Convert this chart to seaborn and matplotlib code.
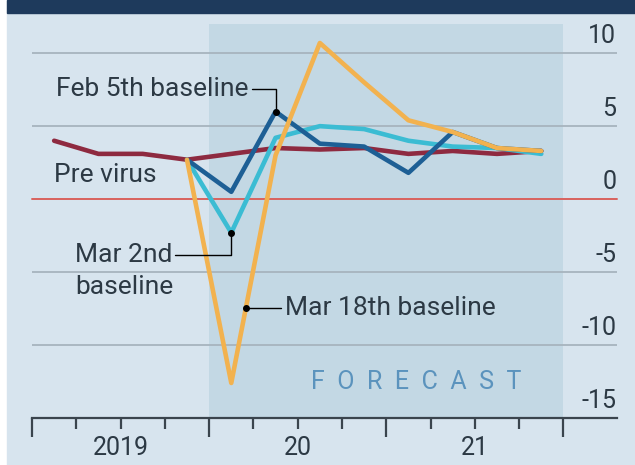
import numpy as np
import pandas as pd
import matplotlib
matplotlib.use("Agg")
import matplotlib.pyplot as plt
from matplotlib.patches import Rectangle
import seaborn as sns

# ---- data (quarterly, index 0 = 2019 Q1) ----
quarters_all = list(range(12))
pre_virus = [4.0, 3.1, 3.1, 2.7, 3.1, 3.5, 3.4, 3.5, 3.1, 3.3, 3.1, 3.3]
quarters_fc = list(range(3, 12))
feb5 = [2.7, 0.5, 6.0, 3.8, 3.6, 1.8, 4.6, 3.5, 3.3]
mar2 = [2.7, -2.3, 4.2, 5.0, 4.8, 4.0, 3.6, 3.5, 3.1]
mar18 = [2.7, -12.6, 3.0, 10.7, 8.0, 5.4, 4.6, 3.5, 3.3]
series_names = ["Pre virus", "Mar 2nd baseline", "Feb 5th baseline", "Mar 18th baseline"]
year_labels = ["2019", "20", "21"]
yticks = [10, 5, 0, -5, -10, -15]

df = pd.concat([
    pd.DataFrame({"q": quarters_all, "v": pre_virus, "s": "Pre virus"}),
    pd.DataFrame({"q": quarters_fc, "v": mar2, "s": "Mar 2nd baseline"}),
    pd.DataFrame({"q": quarters_fc, "v": feb5, "s": "Feb 5th baseline"}),
    pd.DataFrame({"q": quarters_fc, "v": mar18, "s": "Mar 18th baseline"}),
], ignore_index=True)

palette = {"Pre virus": "#8e2a40", "Mar 2nd baseline": "#3bbcd3",
           "Feb 5th baseline": "#1d5f95", "Mar 18th baseline": "#f2b24f"}

sns.set_theme(style="white")
plt.rcParams["font.family"] = ["Roboto", "DejaVu Sans"]
txt = "#2c3944"

fig = plt.figure(figsize=(6.35, 4.65), dpi=100)
fig.patch.set_facecolor("white")
fig.add_artist(Rectangle((7 / 635, 0), 1 - 7 / 635, 1, transform=fig.transFigure,
                         color="#d7e4ee", zorder=-10))
fig.add_artist(Rectangle((7 / 635, 1 - 13 / 465), 1 - 7 / 635, 13 / 465,
                         transform=fig.transFigure, color="#1e3a5c", zorder=-9))

ax = fig.add_axes([32 / 635, 47 / 465, 585 / 635, 394 / 465])
ax.patch.set_alpha(0)
ax.set_xlim(-0.5, 12.71)
ax.set_ylim(-15, 12)

# forecast shading
ax.axvspan(3.5, 11.5, color="#c3d8e4", zorder=0, lw=0)

for v in yticks:
    if v == 0:
        ax.axhline(v, color="#d9625e", lw=1.4, zorder=1, clip_on=False)
    elif v != -15:
        ax.axhline(v, color="#a7b4be", lw=1.3, zorder=1)
    ax.text(0.999, v + 0.35, f"{v}", transform=ax.get_yaxis_transform(),
            ha="right", va="bottom", fontsize=18, color=txt)

sns.lineplot(data=df, x="q", y="v", hue="s", hue_order=series_names,
             palette=palette, linewidth=3.3, legend=False, ax=ax, zorder=3)

# spines / ticks
for sp in ["top", "left", "right"]:
    ax.spines[sp].set_visible(False)
ax.spines["bottom"].set_color("#3a444d")
ax.spines["bottom"].set_linewidth(1.6)
ax.set_yticks([])
ax.set_xlabel("")
ax.set_ylabel("")
major = [-0.5, 3.5, 7.5, 11.5]
minor = [m + 0.5 for m in range(12) if m not in (3, 7, 11)]
ax.set_xticks(major)
ax.set_xticklabels([""] * len(major))
ax.set_xticks(minor, minor=True)
minor_labels = []
for m in minor:
    yi = int((m + 0.5) // 4)
    minor_labels.append(year_labels[yi] if (m + 0.5) % 4 == 2 else "")
ax.set_xticklabels(minor_labels, minor=True)
ax.tick_params(axis="x", which="both", bottom=True)
ax.tick_params(axis="x", which="major", length=14, width=1.6, color="#3a444d", direction="out")
ax.tick_params(axis="x", which="minor", length=8, width=1.6, color="#3a444d", direction="out",
               labelsize=18, labelcolor=txt, pad=5)

# annotations
fs = 19
# Feb 5th
px, py = quarters_fc[2], feb5[2]
ax.plot([4.47, px, px], [7.55, 7.55, py], color="black", lw=1, zorder=4)
ax.plot(px, py, "o", color="black", ms=4, zorder=5)
ax.text(4.38, 7.55, "Feb 5th baseline", ha="right", va="center", fontsize=fs, color=txt)
# Pre virus
ax.text(0.0, 1.65, "Pre virus", ha="left", va="center", fontsize=fs, color=txt)
# Mar 2nd
px, py = quarters_fc[1], mar2[1]
ax.plot([2.74, px, px], [-3.84, -3.84, py], color="black", lw=1, zorder=4)
ax.plot(px, py, "o", color="black", ms=4, zorder=5)
ax.text(0.47, -3.84, "Mar 2nd", ha="left", va="center", fontsize=fs, color=txt)
ax.text(0.47, -6.0, "baseline", ha="left", va="center", fontsize=fs, color=txt)
# Mar 18th
mx = 4.33
my = np.interp(mx, quarters_fc, mar18)
ax.plot([mx, 5.12], [my, my], color="black", lw=1, zorder=4)
ax.plot(mx, my, "o", color="black", ms=4, zorder=5)
ax.text(5.21, my, "Mar 18th baseline", ha="left", va="center", fontsize=fs, color=txt)

ax.text(8.17, -12.5, "F  O  R  E  C  A  S  T", ha="center", va="center", fontsize=18,
        color="#5b93bd")

fig.savefig("out.png", dpi=100)
